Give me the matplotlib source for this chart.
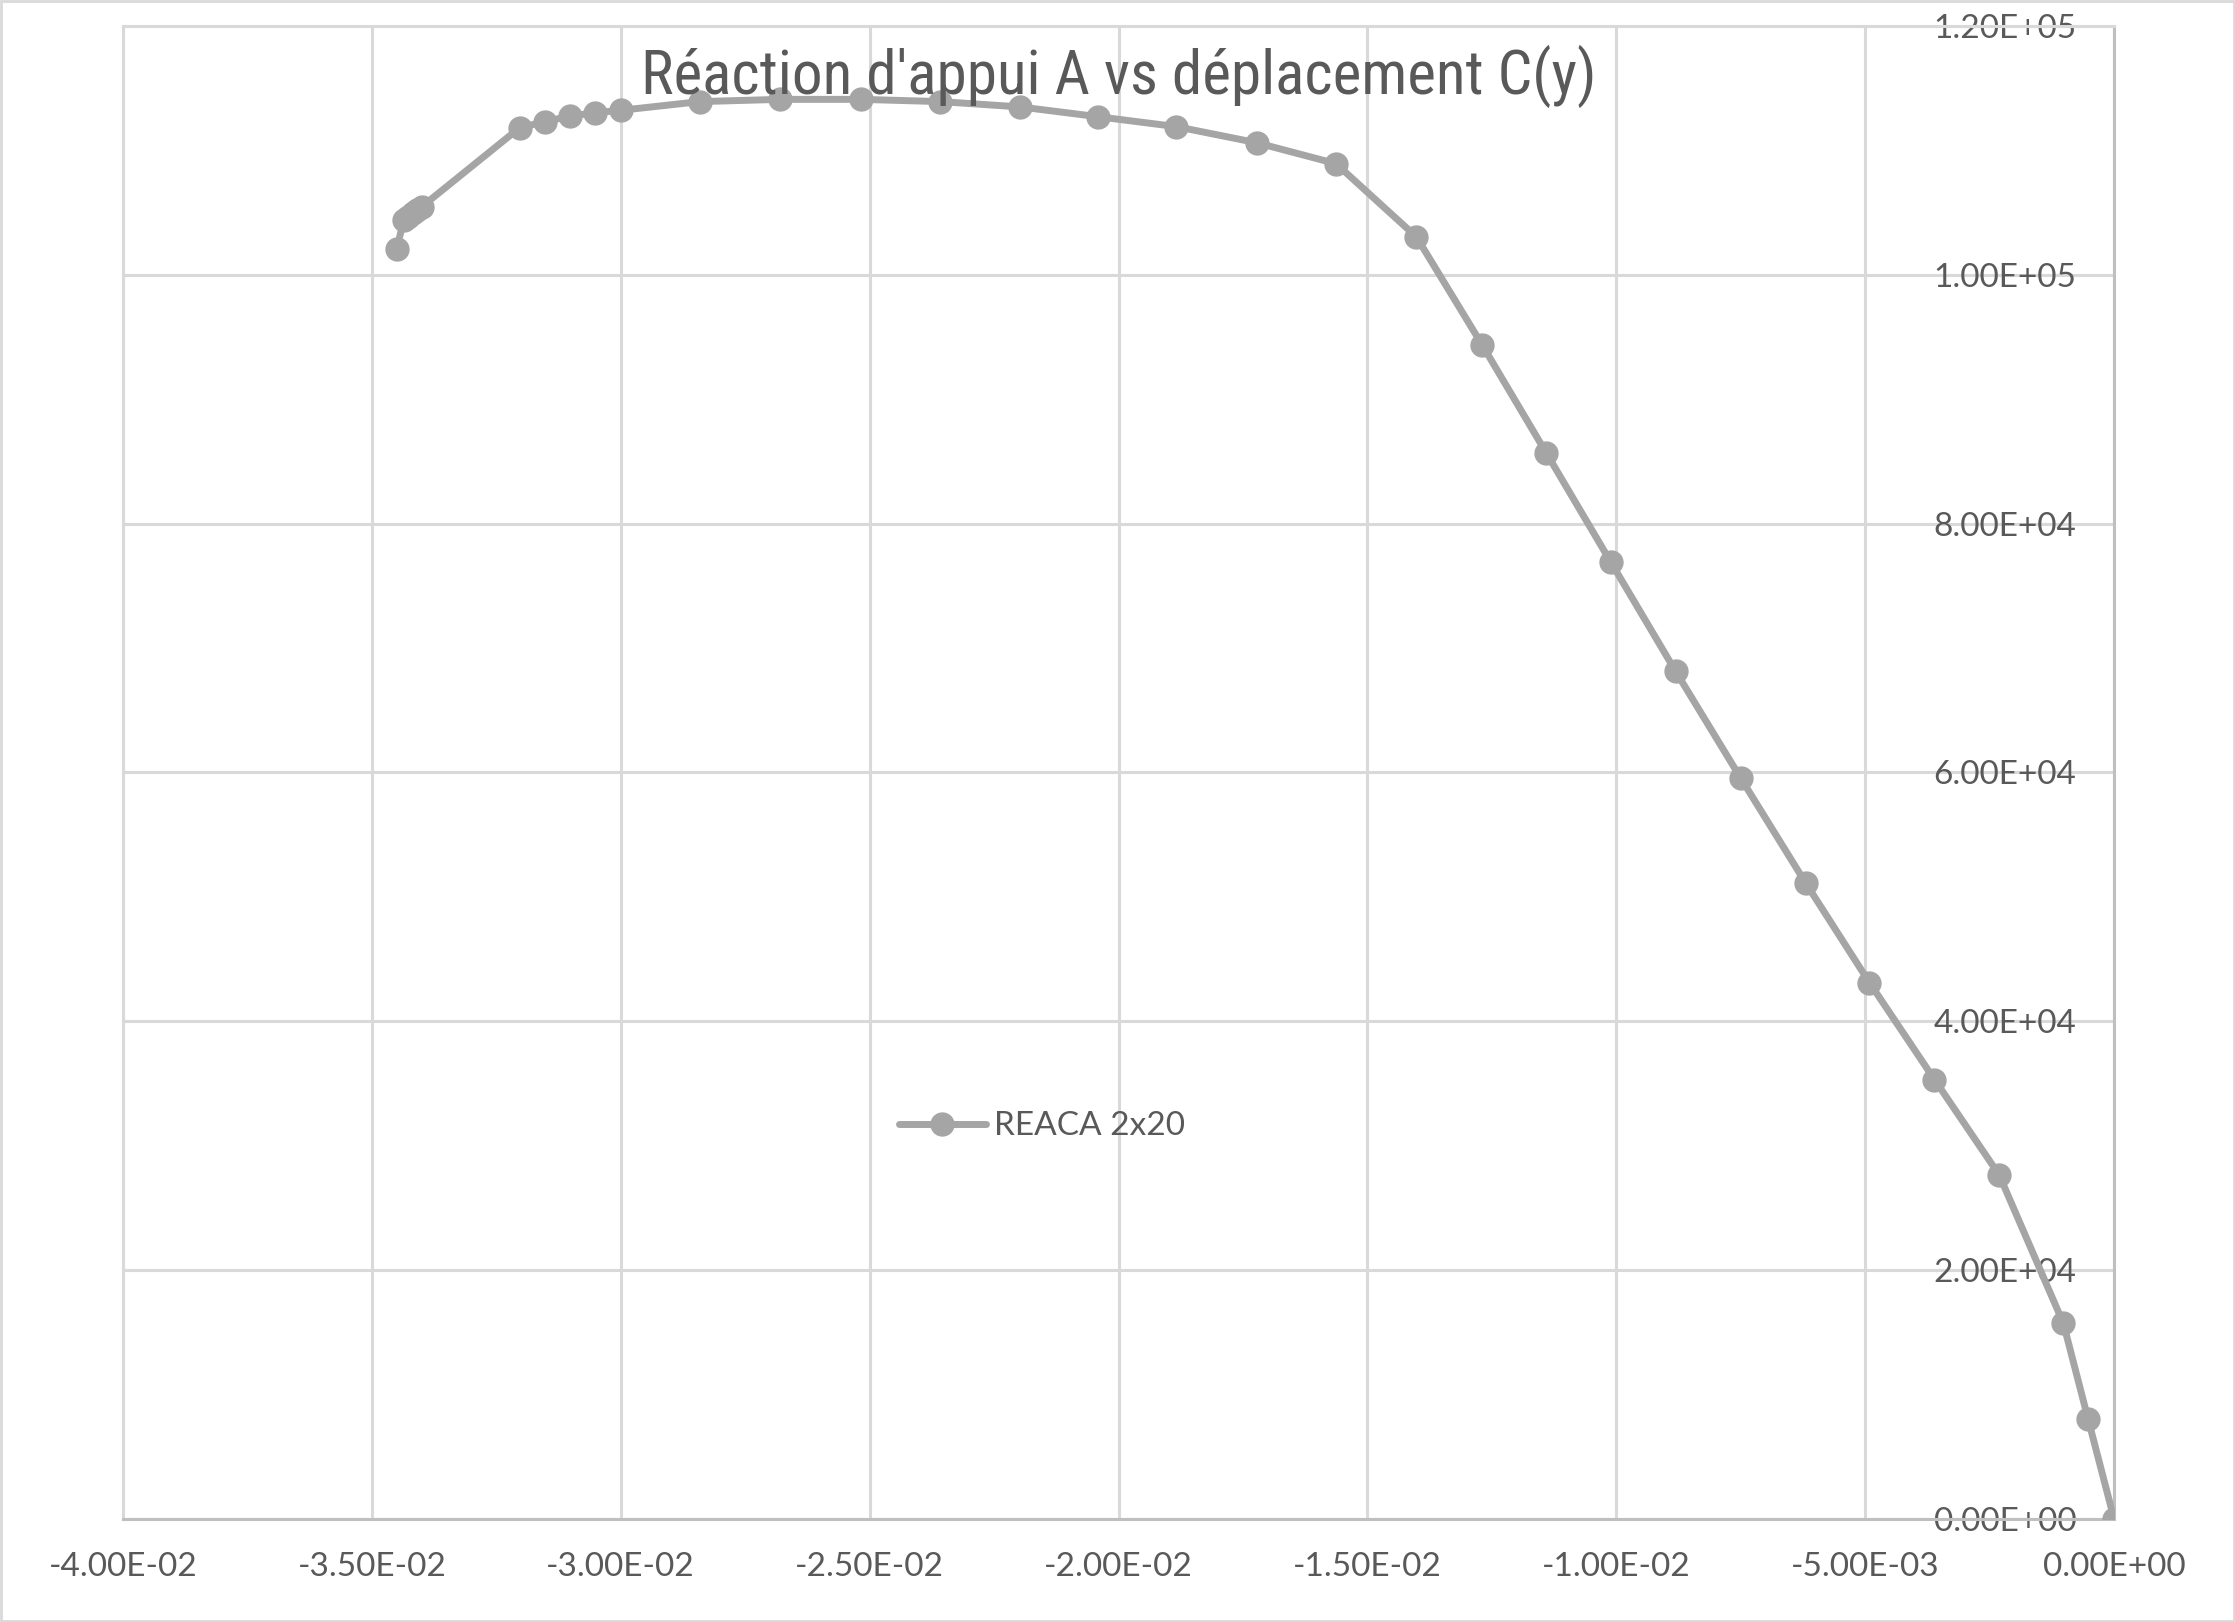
import matplotlib
matplotlib.use('Agg')
import matplotlib.pyplot as plt
from matplotlib import font_manager
from matplotlib.patches import Rectangle

# données (déplacement C(y), réaction A)
deplacement = [0.0, -0.000522, -0.001018, -0.002309, -0.003608, -0.004914,
               -0.006199, -0.007504, -0.008809, -0.010107, -0.011406, -0.012697,
               -0.014016, -0.01563, -0.01722, -0.01884, -0.02042, -0.02197,
               -0.02358, -0.02517, -0.0268, -0.02841, -0.03, -0.03051,
               -0.03101, -0.03153, -0.03203, -0.03400, -0.03409, -0.03418,
               -0.03427, -0.03436, -0.03450]
reaction = [0, 8030, 15720, 27660, 35320, 43110,
            51140, 59570, 68140, 76890, 85680, 94380,
            103050, 108930, 110610, 111910, 112710, 113490,
            113920, 114100, 114100, 113920, 113220, 113030,
            112760, 112300, 111820, 105460, 105190, 104930,
            104660, 104390, 102060]

xticks = [-0.04, -0.035, -0.03, -0.025, -0.02, -0.015, -0.01, -0.005, 0.0]
xlabels = ["-4.00E-02", "-3.50E-02", "-3.00E-02", "-2.50E-02", "-2.00E-02",
           "-1.50E-02", "-1.00E-02", "-5.00E-03", "0.00E+00"]
yticks = [0, 20000, 40000, 60000, 80000, 100000, 120000]
ylabels = ["0.00E+00", "2.00E+04", "4.00E+04", "6.00E+04", "8.00E+04",
           "1.00E+05", "1.20E+05"]

titre = "Réaction d'appui A vs déplacement C(y)"
serie = "REACA 2x20"

installed = {f.name for f in font_manager.fontManager.ttflist}
base_font = "Lato" if "Lato" in installed else "DejaVu Sans"
title_font = base_font
for cand in ["Liberation Sans Narrow", "Roboto Condensed", "Open Sans Condensed"]:
    if cand in installed:
        title_font = cand
        break

plt.rcParams['font.family'] = [base_font, 'DejaVu Sans']

gris_txt = "#595959"
gris_serie = "#a5a5a5"
gris_grille = "#d9d9d9"
gris_axe = "#bfbfbf"

fig = plt.figure(figsize=(22.35, 16.22), dpi=100)
ax = fig.add_axes([0.0550, 0.0635, 0.8909, 0.9205])

ax.plot(deplacement, reaction, color=gris_serie, lw=5, marker='o',
        markersize=16.5, markerfacecolor=gris_serie, markeredgecolor=gris_serie,
        label=serie, zorder=3, solid_capstyle='round')

ax.set_xlim(-0.04, 0.0)
ax.set_ylim(0, 120000)
ax.set_xticks(xticks)
ax.set_xticklabels(xlabels)
ax.set_yticks(yticks)
ax.set_yticklabels(ylabels)

ax.grid(True, color=gris_grille, lw=2.2, zorder=0)
ax.set_axisbelow(True)
for s in ['left', 'top']:
    ax.spines[s].set_color(gris_grille)
    ax.spines[s].set_linewidth(2.2)
for s in ['bottom', 'right']:
    ax.spines[s].set_color(gris_axe)
    ax.spines[s].set_linewidth(2.2)

# étiquettes Y à gauche de l'axe vertical placé en x=0
ax.tick_params(axis='y', left=False, right=False, labelleft=False, labelright=True,
               pad=-27, labelsize=24, labelcolor=gris_txt, length=0)
for lab in ax.get_yticklabels():
    lab.set_horizontalalignment('right')
ax.tick_params(axis='x', length=0, pad=24, labelsize=24, labelcolor=gris_txt)

ax.text(0.5, 0.966, titre, transform=ax.transAxes, ha='center', va='center',
        fontsize=44, color=gris_txt, family=[title_font, 'DejaVu Sans'])

ax.legend(loc='center left', bbox_to_anchor=(0.383, 0.263), frameon=False,
          fontsize=24, labelcolor=gris_txt, handlelength=2.6, handletextpad=0.25,
          borderaxespad=0)

fig.patches.append(Rectangle((0.0005, 0.0005), 0.999, 0.999, transform=fig.transFigure,
                             fill=False, edgecolor=gris_grille, lw=2))

fig.savefig("out.png", dpi=100)
